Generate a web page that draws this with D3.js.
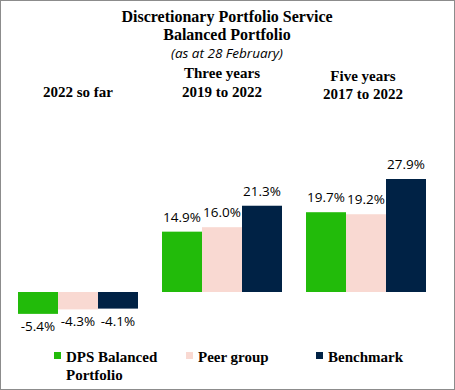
<!DOCTYPE html>
<html><head><meta charset="utf-8">
<script src="https://cdn.jsdelivr.net/npm/d3@7"></script>
<style>
html,body{margin:0;padding:0;background:#fff;}
svg{display:block;}
</style></head>
<body>
<script>
const categories = ["2022 so far", "Three years", "Five years"];
const categorySub = ["", "2019 to 2022", "2017 to 2022"];
const seriesNames = ["DPS Balanced Portfolio", "Peer group", "Benchmark"];
const dpsValues = [-5.4, 14.9, 19.7];
const peerValues = [-4.3, 16.0, 19.2];
const benchValues = [-4.1, 21.3, 27.9];
const colors = ["#22bb0a", "#f9d9d2", "#002245"];

const W = 455, H = 390;
const svg = d3.select("body").append("svg").attr("width", W).attr("height", H);
svg.append("rect").attr("x",0.5).attr("y",0.5).attr("width",W-1).attr("height",H-1)
  .attr("fill","#fff").attr("stroke","#8c8c8c").attr("stroke-width",1);

const serif = "'Liberation Serif','DejaVu Serif',serif";
const sans = "'Open Sans','Noto Sans',sans-serif";

// Title
const title = svg.append("g").attr("text-anchor","middle").attr("fill","#000");
title.append("text").attr("x",227).attr("y",22).attr("font-family",serif).attr("font-weight","bold").attr("font-size",16).text("Discretionary Portfolio Service");
title.append("text").attr("x",227).attr("y",40).attr("font-family",serif).attr("font-weight","bold").attr("font-size",16).text("Balanced Portfolio");
title.append("text").attr("x",227).attr("y",58).attr("font-family",sans).attr("font-style","italic").attr("font-size",13.5).text("(as at 28 February)");

const series = [dpsValues, peerValues, benchValues];
const data = categories.map((c,i)=>({cat:c, vals: series.map((s,j)=>({name:seriesNames[j], v:s[i], j}))}));

const x0 = d3.scaleBand().domain(categories).range([18,426]).paddingInner(1/6).paddingOuter(0);
const x1 = d3.scaleBand().domain(d3.range(3)).range([0, x0.bandwidth()]);
const y = d3.scaleLinear().domain([-10, 30]).range([292 + 10*4.05, 292 - 30*4.05]);

// Category headers
const hdr = svg.append("g").attr("text-anchor","middle").attr("font-family",serif).attr("font-weight","bold").attr("font-size",15).attr("fill","#000");
const hdrPos = [[0,null,97],[0,78,97],[-3,81,99]];
categories.forEach((c,i)=>{
  const cx = x0(c) + x0.bandwidth()/2 + hdrPos[i][0];
  if (categorySub[i] === "") {
    hdr.append("text").attr("x",cx).attr("y",hdrPos[i][2]).text(c);
  } else {
    hdr.append("text").attr("x",cx).attr("y",hdrPos[i][1]).text(c);
    hdr.append("text").attr("x",cx).attr("y",hdrPos[i][2]).text(categorySub[i]);
  }
});

const groups = svg.append("g").selectAll("g").data(data).join("g")
  .attr("transform", d=>`translate(${x0(d.cat)},0)`);

groups.selectAll("rect").data(d=>d.vals).join("rect")
  .attr("x", d=>x1(d.j)).attr("width", x1.bandwidth())
  .attr("y", d=>Math.min(y(d.v), y(0))).attr("height", d=>Math.abs(y(d.v)-y(0)))
  .attr("fill", d=>colors[d.j]);

groups.selectAll("text").data(d=>d.vals).join("text")
  .attr("x", d=>x1(d.j)+x1.bandwidth()/2)
  .attr("y", d=> d.v>=0 ? y(d.v)-10 : y(d.v)+17)
  .attr("text-anchor","middle").attr("font-family",sans).attr("font-size",13.5).attr("fill","#000")
  .text(d=>d.v.toFixed(1)+"%");

// Legend
const leg = svg.append("g").attr("font-family",serif).attr("font-weight","bold").attr("font-size",15).attr("fill","#000");
const legX = [54, 186, 316];
seriesNames.forEach((n,i)=>{
  leg.append("rect").attr("x",legX[i]).attr("y",352).attr("width",7).attr("height",7).attr("fill",colors[i]);
  if (i===0) {
    leg.append("text").attr("x",legX[i]+12).attr("y",362).text("DPS Balanced");
    leg.append("text").attr("x",legX[i]+12).attr("y",380).text("Portfolio");
  } else {
    leg.append("text").attr("x",legX[i]+12).attr("y",362).text(n);
  }
});
</script>
</body></html>
